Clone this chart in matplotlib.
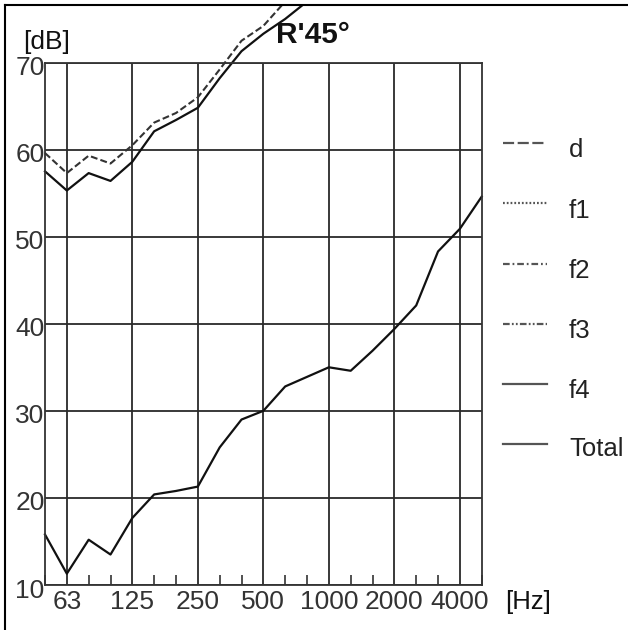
import numpy as np
import matplotlib
matplotlib.use('Agg')
import matplotlib.pyplot as plt
import matplotlib.transforms as mtransforms
from matplotlib.lines import Line2D
from matplotlib.patches import Rectangle

# ---------------- data ----------------
bands = ['50', '63', '80', '100', '125', '160', '200', '250', '315', '400', '500',
         '630', '800', '1000', '1250', '1600', '2000', '2500', '3150', '4000', '5000']
tick_labels = ['63', '125', '250', '500', '1000', '2000', '4000']
y_ticks = [10, 20, 30, 40, 50, 60, 70]

nan = np.nan
d_values = [59.6, 57.3, 59.3, 58.4, 60.5, 63.1, 64.2, 66.0, 69.2, 72.5, 74.2, 77.0, 79.8,
            nan, nan, nan, nan, nan, nan, nan, nan]
f4_values = [57.5, 55.3, 57.3, 56.4, 58.6, 62.1, 63.4, 64.8, 68.2, 71.3, 73.3, 75.0, 77.0,
             nan, nan, nan, nan, nan, nan, nan, nan]
total_values = [15.8, 11.3, 15.2, 13.5, 17.7, 20.4, 20.8, 21.3, 25.8, 29.0, 30.0, 32.8, 33.9,
                35.0, 34.6, 36.9, 39.4, 42.1, 48.3, 50.9, 54.6]
legend_labels = ['d', 'f1', 'f2', 'f3', 'f4', 'Total']

# ---------------- figure ----------------
plt.rcParams['font.family'] = ['Liberation Sans', 'DejaVu Sans']
W, H = 628, 630
fig = plt.figure(figsize=(W / 100, H / 100), dpi=100)
fig.patch.set_facecolor('white')


def fx(px):
    return px / W


def fy(py):
    return 1 - py / H


ax = fig.add_axes([fx(45), fy(585), 436.7 / W, 522.5 / H])
x = np.arange(len(bands))
major_idx = [bands.index(t) for t in tick_labels]
minor_idx = [i for i in range(len(bands)) if i not in major_idx]

ax.set_xlim(0, len(bands) - 1)
ax.set_ylim(10, 70)
ax.set_xticks(major_idx)
ax.set_xticklabels(tick_labels)
ax.set_xticks(minor_idx, minor=True)
ax.set_yticks(y_ticks)
ax.set_yticklabels([str(v) for v in y_ticks])
ax.grid(True, which='major', color='#2a2a2a', lw=1.3)
ax.set_axisbelow(True)
ax.tick_params(axis='both', which='major', length=0, labelsize=19, labelcolor='#333333')
ax.tick_params(axis='x', which='major', pad=3.5)
ax.tick_params(axis='y', which='major', pad=0.3)
ax.tick_params(axis='x', which='minor', direction='in', length=7.2, width=1.1,
               color='#222222', bottom=True)
for s in ax.spines.values():
    s.set_color('#333333')
    s.set_linewidth(1.3)

# shift y tick labels slightly down
offset = mtransforms.ScaledTranslation(0, -3 / 100, fig.dpi_scale_trans)
for lbl in ax.get_yticklabels():
    lbl.set_transform(lbl.get_transform() + offset)

clip_rect = Rectangle((fx(5), 0), 1 - fx(5), fy(5), transform=fig.transFigure,
                      facecolor='none', edgecolor='none')

l_d, = ax.plot(x, d_values, color='#333333', lw=1.5)
l_d.set_dashes((3.3, 1.5))
l_f4, = ax.plot(x, f4_values, color='#111111', lw=1.6)
l_tot, = ax.plot(x, total_values, color='#111111', lw=1.6)
for ln in (l_d, l_f4, l_tot):
    ln.set_clip_path(clip_rect)

# outer frame (left and top)
fig.add_artist(Line2D([fx(5), fx(5)], [0, fy(5)], transform=fig.transFigure,
                      color='black', lw=1.5))
fig.add_artist(Line2D([fx(5), 1], [fy(5), fy(5)], transform=fig.transFigure,
                      color='black', lw=1.5))

# texts
fig.text(fx(276.5), fy(43.3), "R'45°", fontsize=21.5, fontweight='bold',
         ha='left', va='baseline', color='#111111')
fig.text(fx(23), fy(48.5), '[dB]', fontsize=19, ha='left', va='baseline', color='#111111')
fig.text(fx(505), fy(609), '[Hz]', fontsize=18.5, ha='left', va='baseline', color='#111111')

# legend (manual)
handle_y = [143.3, 202.7, 264, 324, 384.3, 444.3]
text_base = [157.3, 218.3, 278.3, 338.3, 398.3, 456.5]
dash_styles = [(0, (5.0, 1.6)), (0, (0.8, 0.9)), (0, (3.0, 1.3, 0.8, 1.3)),
               (0, (3.0, 1.0, 0.8, 1.0, 0.8, 1.0)), 'solid', 'solid']
for lab, hy, tb, ls in zip(legend_labels, handle_y, text_base, dash_styles):
    fig.add_artist(Line2D([fx(503), fx(547)], [fy(hy), fy(hy)], transform=fig.transFigure,
                          color='#555555', lw=1.6, linestyle=ls))
    fig.text(fx(569), fy(tb), lab, fontsize=18.5, ha='left', va='baseline', color='#222222')

fig.savefig('out.png', dpi=100, facecolor='white')
